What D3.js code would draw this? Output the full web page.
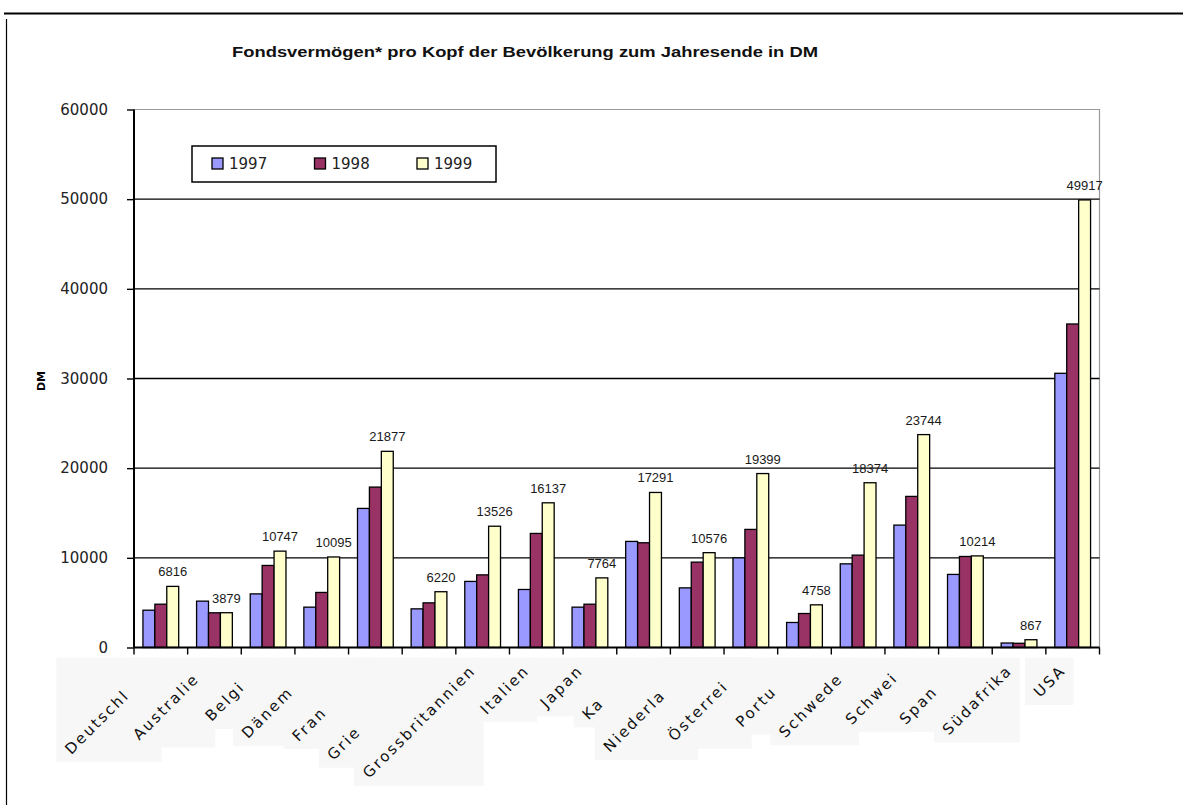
<!DOCTYPE html>
<html>
<head>
<meta charset="utf-8">
<script src="https://cdn.jsdelivr.net/npm/d3@7"></script>
<style>
  html, body { margin: 0; padding: 0; background: #fff; }
  svg { display: block; }
</style>
</head>
<body>
<script>
// Fund assets per head of population at year end, in DM
const categories = ["Deutschland", "Australien", "Belgien", "Dänemark", "Frankreich", "Griechenland",
  "Grossbritannien", "Italien", "Japan", "Kanada", "Niederlande", "Österreich", "Portugal",
  "Schweden", "Schweiz", "Spanien", "Südafrika", "USA"];
const tickLabels = ["Deutschl", "Australie", "Belgi", "Dänem", "Fran", "Grie",
  "Grossbritannien", "Italien", "Japan", "Ka", "Niederla", "Österrei", "Portu",
  "Schwede", "Schwei", "Span", "Südafrika", "USA"];
const years = ["1997", "1998", "1999"];
const values1997 = [4160, 5170, 5980, 4500, 15510, 4310, 7370, 6470, 4500, 11830, 6650, 10000, 2790, 9330, 13650, 8150, 500, 30580];
const values1998 = [4830, 3870, 9150, 6140, 17890, 4980, 8100, 12720, 4830, 11680, 9520, 13170, 3790, 10300, 16850, 10150, 470, 36080];
const values1999 = [6816, 3879, 10747, 10095, 21877, 6220, 13526, 16137, 7764, 17291, 10576, 19399, 4758, 18374, 23744, 10214, 867, 49917];
const yTicks = [0, 10000, 20000, 30000, 40000, 50000, 60000];
const colors = ["#9999ff", "#993366", "#ffffcc"];
const title = "Fondsvermögen* pro Kopf der Bevölkerung zum Jahresende in DM";
const yTitle = "DM";

const W = 1183, H = 805;
const plot = { left: 134, right: 1099.5, top: 109.5, bottom: 647.5 };

const series = [values1997, values1998, values1999];
const rows = categories.map((c, i) => ({ cat: c, label: tickLabels[i], vals: series.map(s => s[i]) }));

const svg = d3.select("body").append("svg").attr("width", W).attr("height", H);
svg.append("rect").attr("width", W).attr("height", H).attr("fill", "#fff");

// page frame: rule under the heading and the left edge of the chart box
svg.append("line").attr("x1", 4).attr("x2", W).attr("y1", 13.5).attr("y2", 13.5)
  .attr("stroke", "#000").attr("stroke-width", 2);
svg.append("line").attr("x1", 6.5).attr("x2", 6.5).attr("y1", 19).attr("y2", H)
  .attr("stroke", "#000").attr("stroke-width", 1.2);

const x0 = d3.scaleBand().domain(categories).range([plot.left, plot.right]).padding(0);
const step = x0.step();
const x1 = d3.scaleBand().domain(years).range([step / 6, step - step / 6]).padding(0);
const y = d3.scaleLinear().domain([0, 60000]).range([plot.bottom, plot.top]);

// chart title
svg.append("text")
  .attr("x", 525).attr("y", 57)
  .attr("text-anchor", "middle")
  .attr("font-family", "'Liberation Sans', Arial, sans-serif")
  .attr("font-weight", "bold")
  .attr("font-size", 15.5)
  .attr("textLength", 586)
  .attr("lengthAdjust", "spacingAndGlyphs")
  .attr("fill", "#111")
  .text(title);

// plot area border (top and right)
svg.append("path")
  .attr("d", `M${plot.left},${plot.top}H${plot.right}V${plot.bottom}`)
  .attr("fill", "none").attr("stroke", "#9a9a9a").attr("stroke-width", 1.2);

// horizontal gridlines
svg.append("g").selectAll("line")
  .data(yTicks.filter(v => v > 0 && v < 60000))
  .join("line")
  .attr("x1", plot.left).attr("x2", plot.right)
  .attr("y1", d => y(d)).attr("y2", d => y(d))
  .attr("stroke", "#000").attr("stroke-width", 1.4);

// category label backgrounds go under everything else in the label area
const labelBg = svg.append("g");

// bars
const groups = svg.append("g").selectAll("g")
  .data(rows).join("g")
  .attr("transform", d => `translate(${x0(d.cat)},0)`);

groups.selectAll("rect")
  .data(d => d.vals.map((v, k) => ({ year: years[k], v, k })))
  .join("rect")
  .attr("x", d => x1(d.year))
  .attr("y", d => y(d.v))
  .attr("width", x1.bandwidth())
  .attr("height", d => y(0) - y(d.v))
  .attr("fill", d => colors[d.k])
  .attr("stroke", "#000")
  .attr("stroke-width", 1.3);

// value labels on the 1999 bars
groups.append("text")
  .attr("x", x1("1999") + x1.bandwidth() / 2)
  .attr("y", d => y(d.vals[2]) - 10)
  .attr("text-anchor", "middle")
  .attr("font-family", "'Liberation Sans', Arial, sans-serif")
  .attr("font-size", 13)
  .attr("fill", "#1a1a1a")
  .text(d => d.vals[2]);

// y axis
const yAxis = svg.append("g")
  .attr("transform", `translate(${plot.left},0)`)
  .call(d3.axisLeft(y).tickValues(yTicks).tickSize(7).tickPadding(19).tickFormat(d3.format("d")));
yAxis.select(".domain").attr("stroke", "#000").attr("stroke-width", 2)
  .attr("d", `M0,${plot.top}V${plot.bottom}`);
yAxis.selectAll(".tick line").attr("stroke", "#000").attr("stroke-width", 1.4);
yAxis.selectAll(".tick text")
  .attr("font-family", "'DejaVu Sans', Verdana, sans-serif")
  .attr("font-size", 15)
  .attr("fill", "#222");

// x axis: baseline and ticks at category boundaries
svg.append("line")
  .attr("x1", plot.left).attr("x2", plot.right)
  .attr("y1", y(0)).attr("y2", y(0))
  .attr("stroke", "#000").attr("stroke-width", 2);
const bounds = categories.map(c => x0(c)).concat([x0(categories[categories.length - 1]) + step]);
svg.append("g").selectAll("line")
  .data(bounds).join("line")
  .attr("x1", d => d).attr("x2", d => d)
  .attr("y1", y(0)).attr("y2", y(0) + 7)
  .attr("stroke", "#000").attr("stroke-width", 1.4);

// rotated category labels
const lab = svg.append("g").selectAll("g")
  .data(rows).join("g")
  .attr("transform", d => `translate(${x0(d.cat) + step / 2 - 6},${y(0) + 24}) rotate(-45)`);

const labelFont = { family: "'DejaVu Sans', Verdana, sans-serif", size: 15 };
lab.each(function (d) {
  const g = d3.select(this);
  const t = g.append("text")
    .attr("text-anchor", "end")
    .attr("font-family", labelFont.family)
    .attr("font-size", labelFont.size)
    .attr("letter-spacing", 2.2)
    .attr("fill", "#111")
    .text(d.cat);
  const full = t.node().getComputedTextLength();
  const r = t.node().getBoundingClientRect();
  labelBg.append("rect")
    .attr("x", r.left - 5).attr("y", r.top - 4)
    .attr("width", r.width + 9).attr("height", r.height + 8)
    .attr("fill", "#f7f7f7");
  // label clipped to the leading characters, starting where the full name starts
  t.attr("text-anchor", "start").attr("x", -full).text(d.label);
});

// y axis title
svg.append("text")
  .attr("transform", "translate(45,381) rotate(-90)")
  .attr("text-anchor", "middle")
  .attr("font-family", "'DejaVu Sans', Verdana, sans-serif")
  .attr("font-weight", "bold")
  .attr("font-size", 11)
  .attr("fill", "#000")
  .text(yTitle);

// legend
const legend = svg.append("g").attr("transform", "translate(192,146)");
legend.append("rect").attr("width", 304).attr("height", 36)
  .attr("fill", "#fff").attr("stroke", "#000").attr("stroke-width", 1.5);
const li = legend.selectAll("g.item").data(years).join("g")
  .attr("class", "item")
  .attr("transform", (d, i) => `translate(${20 + i * 102.5},12)`);
li.append("rect").attr("width", 11).attr("height", 11)
  .attr("fill", (d, i) => colors[i]).attr("stroke", "#000").attr("stroke-width", 1.3);
li.append("text")
  .attr("x", 17).attr("y", 11)
  .attr("font-family", "'DejaVu Sans', Verdana, sans-serif")
  .attr("font-size", 15)
  .attr("fill", "#222")
  .text(d => d);
</script>
</body>
</html>
